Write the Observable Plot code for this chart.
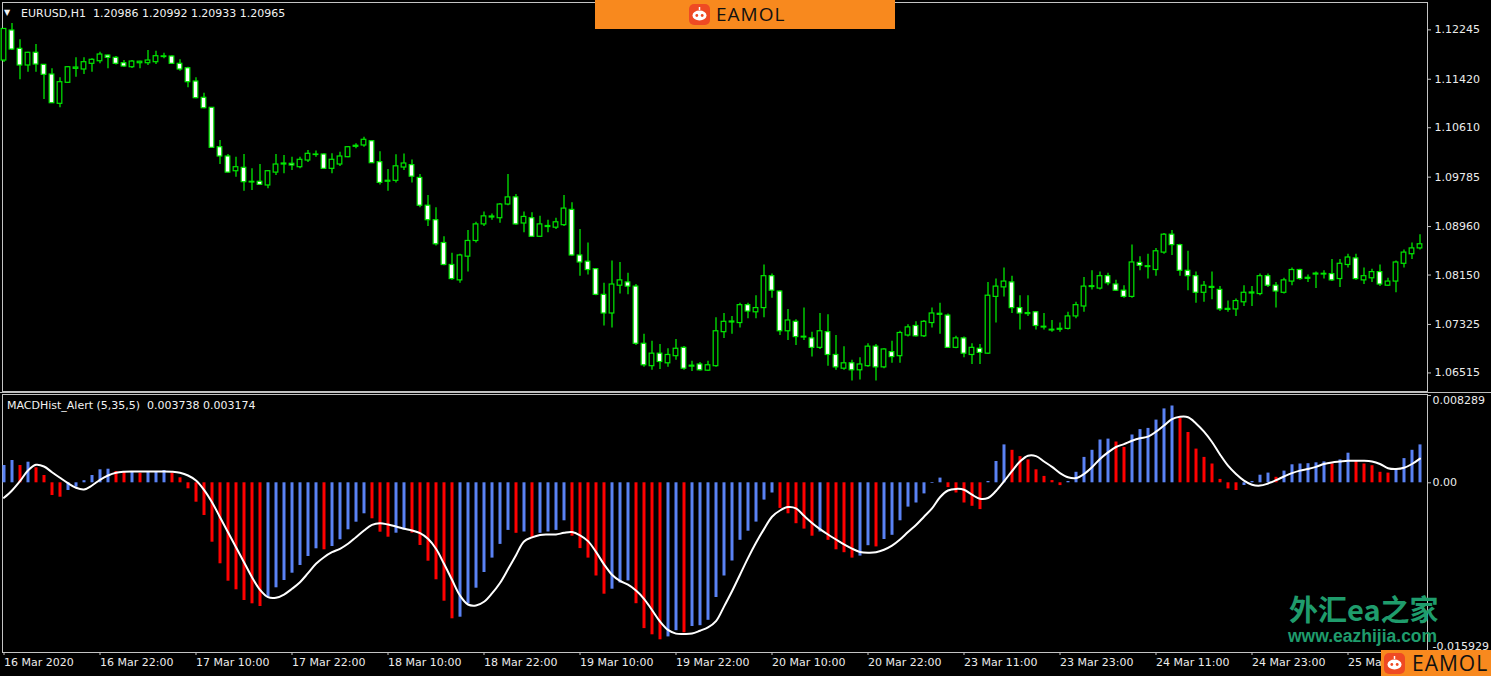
<!DOCTYPE html>
<html><head><meta charset="utf-8">
<script src="https://cdn.jsdelivr.net/npm/d3@7"></script>
<script src="https://cdn.jsdelivr.net/npm/@observablehq/plot@0.6"></script>
<style>
html,body{margin:0;padding:0;background:#000;width:1491px;height:676px;overflow:hidden;}
#wrap{position:relative;width:1491px;height:676px;font-family:"DejaVu Sans",sans-serif;}
#top,#bot{position:absolute;left:0;}
#top{top:0;} #bot{top:392px;}
.hdr{position:absolute;color:#f2f2f2;font-size:11px;white-space:pre;line-height:13px;}
.sep{position:absolute;left:0;width:1491px;height:1px;background:#bdbdbd;top:392px;}
.banner{position:absolute;left:595px;top:0;width:300px;height:29px;background:#f8891e;}
.badge{position:absolute;left:1381px;top:650px;width:110px;height:26px;background:#f8891e;}
.brand{position:absolute;font-family:"Open Sans",sans-serif;font-weight:400;color:#111;letter-spacing:1px;white-space:pre;}
.wm1{position:absolute;left:1289px;top:590px;font-family:"Noto Sans CJK SC",sans-serif;font-weight:700;font-size:29px;line-height:36px;color:#1f9c6c;white-space:pre;}
.wm2{position:absolute;left:1288px;top:626px;font-family:"Liberation Sans",sans-serif;font-weight:700;font-size:17.5px;line-height:20px;color:#1f9c6c;white-space:pre;}
</style></head>
<body><div id="wrap">
<div id="top"></div><div id="bot"></div>
<div class="sep"></div>
<div class="hdr" style="left:4px;top:6px;font-size:8px;">▼</div>
<div class="hdr" style="left:21px;top:7px;">EURUSD,H1  1.20986 1.20992 1.20933 1.20965</div>
<div class="hdr" style="left:7px;top:399px;">MACDHist_Alert (5,35,5)  0.003738 0.003174</div>
<div class="banner">
  <svg style="position:absolute;left:94px;top:4px" width="21" height="21" viewBox="0 0 21 21"><rect width="21" height="21" rx="5" fill="#ef4a23"/><line x1="10.5" y1="3" x2="10.5" y2="6" stroke="#fff" stroke-width="1.5"/><ellipse cx="10.5" cy="11.5" rx="7" ry="5" fill="#fff"/><circle cx="7.8" cy="11.5" r="1.4" fill="#ef4a23"/><circle cx="13.2" cy="11.5" r="1.4" fill="#ef4a23"/></svg>
  <div class="brand" style="left:121px;top:1px;font-size:19px;line-height:26px;">EAMOL</div>
</div>
<div class="wm1">外汇ea之家</div>
<div class="wm2">www.eazhijia.com</div>
<div class="badge">
  <svg style="position:absolute;left:3px;top:3px" width="21" height="21" viewBox="0 0 21 21"><rect width="21" height="21" rx="5" fill="#ef4a23"/><line x1="10.5" y1="3" x2="10.5" y2="6" stroke="#fff" stroke-width="1.5"/><ellipse cx="10.5" cy="11.5" rx="7" ry="5" fill="#fff"/><circle cx="7.8" cy="11.5" r="1.4" fill="#ef4a23"/><circle cx="13.2" cy="11.5" r="1.4" fill="#ef4a23"/></svg>
  <div class="brand" style="left:31px;top:-1px;font-size:21px;line-height:28px;">EAMOL</div>
</div>
</div>
<script>
// ---- data ----
const xTickBars = [0,12,24,36,48,60,72,84,96,108,120,132,144,156,168];
const xTickLabels = ["16 Mar 2020","16 Mar 22:00","17 Mar 10:00","17 Mar 22:00","18 Mar 10:00","18 Mar 22:00","19 Mar 10:00","19 Mar 22:00","20 Mar 10:00","20 Mar 22:00","23 Mar 11:00","23 Mar 23:00","24 Mar 11:00","24 Mar 23:00","25 Mar 11:00"];
const priceTicks = [1.12245,1.11420,1.10610,1.09785,1.08960,1.08150,1.07325,1.06515];
const histTickTop = 0.008289, histTickZero = 0, histTickBottom = -0.015929;

const opens = [1.11733,1.12234,1.11928,1.11650,1.11862,1.11661,1.11499,1.11010,1.11361,1.11594,
1.11583,1.11678,1.11721,1.11816,1.11778,1.11688,1.11621,1.11688,1.11688,1.11705,
1.11791,1.11800,1.11678,1.11604,1.11382,1.11110,1.10943,1.10285,1.10130,1.09884,
1.09941,1.09696,1.09708,1.09646,1.09861,1.09996,1.10008,1.09951,1.10063,1.10155,
1.10163,1.09924,1.09996,1.10118,1.10292,1.10314,1.10385,1.10035,1.09708,1.09724,
1.09946,1.09986,1.09772,1.09308,1.09066,1.08685,1.08318,1.08061,1.08457,1.08719,
1.08996,1.09111,1.09099,1.09328,1.09447,1.09011,1.09099,1.08789,1.08952,1.08941,
1.08983,1.09238,1.08477,1.08373,1.08248,1.07819,1.07508,1.07972,1.08027,1.07957,
1.07002,1.06628,1.06837,1.06676,1.06795,1.06934,1.06620,1.06656,1.06553,1.06628,
1.07196,1.07358,1.07348,1.07647,1.07528,1.07598,1.08131,1.07875,1.07211,1.07369,
1.07120,1.07092,1.06934,1.07196,1.06815,1.06586,1.06676,1.06559,1.06628,1.06954,
1.06608,1.06863,1.06795,1.07140,1.07299,1.07127,1.07348,1.07503,1.07473,1.06934,
1.07092,1.06815,1.06919,1.06837,1.07785,1.07944,1.08027,1.07598,1.07515,1.07528,
1.07287,1.07237,1.07236,1.07251,1.07459,1.07625,1.07950,1.07924,1.08131,1.07992,
1.07889,1.07785,1.08353,1.08283,1.08234,1.08525,1.08824,1.08650,1.08221,1.08131,
1.07854,1.07952,1.07902,1.07585,1.07576,1.07695,1.07842,1.07833,1.08131,1.07972,
1.07854,1.08041,1.08234,1.08104,1.08158,1.08159,1.08166,1.08083,1.08318,1.08428,
1.08061,1.08096,1.08199,1.07972,1.08041,1.08338,1.08498,1.08595];
const highs = [1.12267,1.12351,1.12079,1.11872,1.12000,1.11666,1.11594,1.11444,1.11633,1.11778,
1.11778,1.11761,1.11872,1.11825,1.11799,1.11733,1.11733,1.11720,1.11900,1.11888,
1.11855,1.11812,1.11745,1.11621,1.11444,1.11187,1.10948,1.10397,1.10163,1.10118,
1.10163,1.09924,1.09996,1.09896,1.10163,1.10147,1.10118,1.10118,1.10230,1.10222,
1.10175,1.10175,1.10202,1.10297,1.10342,1.10452,1.10392,1.10208,1.09913,1.10160,
1.10173,1.10070,1.09829,1.09480,1.09273,1.08789,1.08512,1.08498,1.08894,1.09031,
1.09205,1.09170,1.09343,1.09828,1.09495,1.09205,1.09190,1.09130,1.09066,1.09099,
1.09480,1.09357,1.08912,1.08685,1.08259,1.08012,1.08386,1.08360,1.08179,1.07992,
1.07162,1.07044,1.06989,1.06919,1.07072,1.06957,1.06711,1.06690,1.06711,1.07438,
1.07508,1.07459,1.07680,1.07680,1.07805,1.08318,1.08166,1.07889,1.07576,1.07404,
1.07598,1.07196,1.07508,1.07486,1.07140,1.06954,1.06725,1.06767,1.07002,1.06989,
1.06919,1.07044,1.07211,1.07321,1.07369,1.07391,1.07598,1.07680,1.07500,1.07127,
1.07114,1.07002,1.06989,1.08027,1.08083,1.08269,1.08131,1.07805,1.07805,1.07543,
1.07508,1.07391,1.07348,1.07528,1.07695,1.08109,1.08221,1.08199,1.08179,1.08061,
1.07972,1.08650,1.08456,1.08498,1.08595,1.08844,1.08892,1.08664,1.08547,1.08199,
1.08041,1.08199,1.07957,1.07715,1.07750,1.07972,1.07957,1.08166,1.08166,1.08027,
1.08096,1.08269,1.08248,1.08151,1.08199,1.08221,1.08408,1.08408,1.08498,1.08498,
1.08269,1.08248,1.08318,1.08096,1.08386,1.08567,1.08685,1.08824];
const lows = [1.11700,1.11900,1.11411,1.11538,1.11538,1.11082,1.11015,1.10943,1.11349,1.11454,
1.11499,1.11538,1.11678,1.11594,1.11658,1.11616,1.11599,1.11594,1.11650,1.11666,
1.11761,1.11666,1.11554,1.11277,1.11093,1.10926,1.10272,1.09996,1.09854,1.09784,
1.09550,1.09562,1.09651,1.09590,1.09813,1.09841,1.09896,1.09924,1.10031,1.10118,
1.09913,1.09841,1.09963,1.10108,1.10258,1.10285,1.10013,1.09654,1.09550,1.09689,
1.09896,1.09689,1.09273,1.08961,1.08637,1.08305,1.08061,1.08012,1.08199,1.08685,
1.08961,1.09066,1.09017,1.09308,1.08983,1.08857,1.08775,1.08775,1.08857,1.08912,
1.08961,1.08463,1.08131,1.08151,1.07805,1.07299,1.07266,1.07834,1.07819,1.06974,
1.06608,1.06559,1.06573,1.06608,1.06725,1.06559,1.06538,1.06548,1.06538,1.06608,
1.07092,1.07162,1.07266,1.07418,1.07418,1.07438,1.07763,1.07140,1.07057,1.06974,
1.07057,1.06780,1.06907,1.06628,1.06559,1.06559,1.06379,1.06399,1.06608,1.06379,
1.06586,1.06676,1.06676,1.07114,1.07114,1.07107,1.07266,1.07162,1.06923,1.06919,
1.06767,1.06656,1.06656,1.06823,1.07348,1.07785,1.07508,1.07231,1.07459,1.07231,
1.07231,1.07196,1.07196,1.07231,1.07418,1.07528,1.07902,1.07902,1.07972,1.07875,
1.07763,1.07763,1.08221,1.08083,1.08131,1.08498,1.08477,1.08131,1.07889,1.07680,
1.07695,1.07737,1.07541,1.07528,1.07459,1.07625,1.07625,1.07805,1.07944,1.07598,
1.07833,1.07972,1.08061,1.08027,1.07924,1.08083,1.08041,1.07944,1.08269,1.08061,
1.07992,1.08027,1.07957,1.07957,1.07854,1.08269,1.08408,1.08567];
const closes = [1.12260,1.11917,1.11650,1.11862,1.11666,1.11494,1.11020,1.11371,1.11621,1.11616,
1.11705,1.11745,1.11833,1.11778,1.11678,1.11633,1.11716,1.11713,1.11733,1.11805,
1.11803,1.11678,1.11583,1.11371,1.11104,1.10936,1.10275,1.10130,1.09861,1.09951,
1.09701,1.09707,1.09657,1.09884,1.09996,1.10013,1.09980,1.10075,1.10175,1.10163,
1.09924,1.10075,1.10130,1.10285,1.10309,1.10409,1.10018,1.09689,1.09725,1.09966,
1.10013,1.09793,1.09308,1.09066,1.08664,1.08318,1.08083,1.08477,1.08719,1.08996,
1.09130,1.09128,1.09328,1.09447,1.08996,1.09121,1.08789,1.08996,1.08969,1.09031,
1.09260,1.08477,1.08360,1.08234,1.07819,1.07508,1.07992,1.08061,1.07957,1.07002,
1.06643,1.06837,1.06698,1.06815,1.06919,1.06586,1.06636,1.06559,1.06643,1.07211,
1.07369,1.07374,1.07647,1.07541,1.07598,1.08131,1.07889,1.07211,1.07391,1.07114,
1.07107,1.06934,1.07211,1.06815,1.06608,1.06676,1.06559,1.06656,1.06954,1.06608,
1.06907,1.06780,1.07182,1.07276,1.07127,1.07369,1.07508,1.07486,1.06934,1.07092,
1.06837,1.06934,1.06850,1.07805,1.07957,1.08041,1.07598,1.07508,1.07498,1.07299,
1.07274,1.07224,1.07252,1.07459,1.07647,1.07957,1.07964,1.08131,1.08012,1.07889,
1.07785,1.08360,1.08305,1.08298,1.08547,1.08824,1.08650,1.08221,1.08131,1.07854,
1.07972,1.07935,1.07576,1.07568,1.07715,1.07854,1.07859,1.08131,1.07972,1.07875,
1.08061,1.08234,1.08083,1.08087,1.08174,1.08171,1.08061,1.08338,1.08443,1.08083,
1.08131,1.08199,1.07992,1.08041,1.08360,1.08525,1.08595,1.08664];
const hist = [0.001643,0.002118,0.001643,0.001957,0.001425,0.000694,-0.001207,-0.001368,-0.000732,-0.000418,
0.000200,0.000694,0.001235,0.001292,0.001074,0.001007,0.001045,0.000912,0.001007,0.001074,
0.001169,0.000912,0.000475,-0.000570,-0.001843,-0.003107,-0.005643,-0.007695,-0.009348,-0.010165,
-0.011182,-0.011495,-0.011752,-0.010868,-0.009975,-0.009282,-0.008588,-0.007857,-0.007002,-0.006270,
-0.006365,-0.006052,-0.005415,-0.004465,-0.003743,-0.002945,-0.003420,-0.004693,-0.005168,-0.004788,
-0.004465,-0.004788,-0.005957,-0.007448,-0.009215,-0.011248,-0.012920,-0.012768,-0.011495,-0.010013,
-0.008522,-0.007154,-0.005852,-0.004522,-0.004798,-0.004674,-0.005187,-0.004798,-0.004674,-0.004522,
-0.003610,-0.005073,-0.006251,-0.007154,-0.008854,-0.010583,-0.010108,-0.009519,-0.009320,-0.011486,
-0.013851,-0.014440,-0.014915,-0.014640,-0.014051,-0.014250,-0.013652,-0.013576,-0.013063,-0.010897,
-0.008854,-0.007429,-0.005463,-0.004598,-0.003734,-0.001644,-0.000969,-0.002432,-0.002945,-0.003886,
-0.004399,-0.005073,-0.004674,-0.005463,-0.006365,-0.006641,-0.007154,-0.006964,-0.005976,-0.006090,
-0.005387,-0.004988,-0.003610,-0.002309,-0.001919,-0.001055,-0.000067,0.000447,-0.000456,-0.000969,
-0.001919,-0.002233,-0.002546,0.000124,0.002024,0.003601,0.003088,0.002489,0.002176,0.001235,
0.000608,0.000209,-0.000266,0.000124,0.000998,0.002413,0.003088,0.004066,0.004152,0.003876,
0.003363,0.004541,0.005054,0.005168,0.005957,0.007021,0.007296,0.006118,0.004779,0.003202,
0.002413,0.001786,0.000323,-0.000580,-0.000732,-0.000257,0.000124,0.000722,0.000922,0.000523,
0.001112,0.001710,0.001786,0.001815,0.001900,0.001986,0.001786,0.002176,0.002812,0.002024,
0.001786,0.001625,0.000998,0.000922,0.001311,0.002299,0.003088,0.003601];
const signal = [-0.001425,-0.000732,0.000152,0.001169,0.001710,0.001549,0.001007,0.000475,-0.000038,-0.000475,
-0.000637,-0.000257,0.000285,0.000694,0.000950,0.001045,0.001074,0.001074,0.001074,0.001074,
0.001074,0.001045,0.000950,0.000694,0.000219,-0.000665,-0.001843,-0.003268,-0.004693,-0.006118,
-0.007543,-0.008968,-0.010165,-0.010868,-0.010925,-0.010612,-0.010070,-0.009443,-0.008588,-0.007695,
-0.007068,-0.006593,-0.006270,-0.005795,-0.005168,-0.004532,-0.003990,-0.003838,-0.003962,-0.004152,
-0.004370,-0.004532,-0.004788,-0.005320,-0.006270,-0.007695,-0.009215,-0.010707,-0.011562,-0.011657,
-0.011296,-0.010507,-0.009519,-0.008218,-0.006878,-0.005577,-0.005187,-0.004950,-0.004912,-0.004912,
-0.004750,-0.004674,-0.004988,-0.005539,-0.006565,-0.007743,-0.008731,-0.009320,-0.009681,-0.010232,
-0.011020,-0.012084,-0.013177,-0.013975,-0.014326,-0.014364,-0.014326,-0.014051,-0.013737,-0.013139,
-0.011761,-0.010308,-0.008731,-0.007154,-0.005700,-0.004399,-0.003221,-0.002632,-0.002309,-0.002432,
-0.003135,-0.003810,-0.004399,-0.004912,-0.005387,-0.005852,-0.006251,-0.006565,-0.006641,-0.006603,
-0.006365,-0.005976,-0.005387,-0.004674,-0.004009,-0.003221,-0.002432,-0.001368,-0.000732,-0.000580,
-0.000656,-0.001131,-0.001520,-0.001444,-0.000779,0.000133,0.001112,0.002024,0.002575,0.002537,
0.002024,0.001511,0.000922,0.000523,0.000447,0.000836,0.001473,0.002261,0.002888,0.003401,
0.003677,0.003990,0.004228,0.004380,0.004855,0.005444,0.006042,0.006270,0.006232,0.005643,
0.004855,0.003876,0.002689,0.001625,0.000836,0.000209,-0.000181,-0.000266,-0.000067,0.000247,
0.000599,0.000922,0.001159,0.001311,0.001511,0.001786,0.001938,0.002024,0.002100,0.002100,
0.002100,0.002024,0.001786,0.001387,0.001311,0.001425,0.001786,0.002299];

// ---- styles ----
const GREEN = "#00e800", BLUE = "#5a82f4", RED = "#ff0000", AXIS = "#c4c4c4", TXT = "#ececec";

const N = opens.length;
const bars = d3.range(N).map(i => ({
  i, open: opens[i], high: highs[i], low: lows[i], close: closes[i],
  hist: hist[i], signal: signal[i], up: i === 0 || hist[i] > hist[i - 1]
}));
const xDomain = [-0.1875, N - 0.0625];
const labelOf = new Map(xTickBars.map((b, k) => [b, xTickLabels[k]]));
const baseStyle = {background: "#000", color: AXIS, fontFamily: "DejaVu Sans", fontSize: "11px", overflow: "visible"};

const topPlot = Plot.plot({
  width: 1491, height: 392,
  marginTop: 2, marginBottom: 1, marginLeft: 2, marginRight: 64,
  style: baseStyle,
  x: {domain: xDomain, axis: null},
  y: {domain: [1.06205, 1.12702], axis: null},
  marks: [
    Plot.frame({stroke: AXIS}),
    Plot.ruleX(bars, {x: "i", y1: "low", y2: "high", stroke: GREEN, strokeWidth: 1.3}),
    Plot.rect(bars, {x1: d => d.i - 0.29, x2: d => d.i + 0.29, y1: "open", y2: "close",
      fill: d => d.close > d.open ? "#000" : "#fff", stroke: GREEN, strokeWidth: 1.2}),
    Plot.axisY(priceTicks, {anchor: "right", tickSize: 3, tickPadding: 4, tickFormat: d => d.toFixed(5), fill: TXT, stroke: AXIS})
  ]
});
document.getElementById("top").appendChild(topPlot);

const botPlot = Plot.plot({
  width: 1491, height: 284,
  marginTop: 2, marginBottom: 24, marginLeft: 2, marginRight: 64,
  style: baseStyle,
  x: {domain: xDomain, axis: null},
  y: {domain: [-0.0161215, 0.0083885], axis: null},
  marks: [
    Plot.frame({stroke: AXIS}),
    Plot.ruleX(bars, {x: "i", y1: 0, y2: "hist", stroke: d => d.up ? BLUE : RED, strokeWidth: 3}),
    Plot.line(bars, {x: "i", y: "signal", stroke: "#ffffff", strokeWidth: 2, curve: "catmull-rom"}),
    Plot.axisX(xTickBars, {anchor: "bottom", tickSize: 3, tickPadding: 3, textAnchor: "start", tickFormat: d => labelOf.get(d), fill: TXT, stroke: AXIS}),
    Plot.axisY([histTickTop, histTickZero], {anchor: "right", tickSize: 3, tickFormat: () => "", stroke: AXIS}),
    Plot.text([histTickTop], {y: d => d, frameAnchor: "right", dx: 5, dy: 1, textAnchor: "start", lineAnchor: "top", text: d => d.toFixed(6), fill: TXT}),
    Plot.text([histTickZero], {y: d => d, frameAnchor: "right", dx: 5, textAnchor: "start", lineAnchor: "middle", text: d => d.toFixed(2), fill: TXT}),
    Plot.text([histTickBottom], {y: d => d, frameAnchor: "right", dx: 5, textAnchor: "start", lineAnchor: "bottom", text: d => d.toFixed(6), fill: TXT})
  ]
});
document.getElementById("bot").appendChild(botPlot);
</script>
</body></html>
